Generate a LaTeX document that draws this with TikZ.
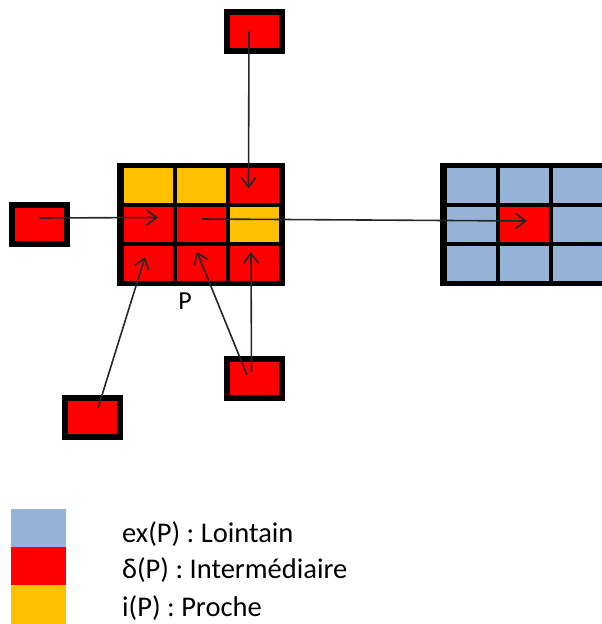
\documentclass[tikz,border=0pt]{standalone}
\usepackage{fontspec}
\setmainfont{Carlito}
\usetikzlibrary{arrows.meta}
\definecolor{lointain}{RGB}{149,179,215}
\definecolor{inter}{RGB}{255,0,0}
\definecolor{proche}{RGB}{255,192,0}

\begin{document}
\begin{tikzpicture}[x=1pt,y=-1pt,
    frame/.style={fill=black,minimum width=168pt,minimum height=123pt,inner sep=0},
    cell/.style={minimum width=49pt,minimum height=35pt,inner sep=0},
    blob/.style={fill=inter,draw=black,line width=6pt,minimum width=55pt,minimum height=39pt,inner sep=0},
    link/.style={draw=black!85,line width=1.6pt,-{Straight Barb[length=10pt,width=15pt]}},
    swatch/.style={minimum width=55pt,minimum height=38.5pt,inner sep=0},
    legend/.style={anchor=base west,inner sep=0,font=\fontsize{28.5}{30}\selectfont}]
  \useasboundingbox (0,0) rectangle (602,624);
  % grid of P
  \node[frame] (gridP) at (201,224.5) {};
  \foreach \r/\c/\col in {1/1/proche,1/2/proche,1/3/inter,
                          2/1/inter,2/2/inter,2/3/proche,
                          3/1/inter,3/2/inter,3/3/inter}
    \node[cell,fill=\col] (p\r\c) at ({95+53*\c},{146.5+39*\r}) {};
  \node[font=\fontsize{26}{28}\selectfont] (plabel) at (185,301) {P};
  % far grid
  \node[frame] (gridEx) at (524,224.5) {};
  \foreach \r/\c/\col in {1/1/lointain,1/2/lointain,1/3/lointain,
                          2/1/lointain,2/2/inter,2/3/lointain,
                          3/1/lointain,3/2/lointain,3/3/lointain}
    \node[cell,fill=\col] (e\r\c) at ({418+53*\c},{146.5+39*\r}) {};
  % small boxes
  \node[blob] (tb) at (254.5,31.5) {};
  \node[blob] (lb) at (39.5,224.5) {};
  \node[blob] (bl) at (92.5,417) {};
  \node[blob] (bm) at (254.5,378) {};
  % links
  \draw[link] ([shift={(-5.5,0)}]tb.center) -- ([shift={(-5.5,3)}]p13.center);
  \draw[link] ([shift={(0,-6.5)}]lb.center) -- ([shift={(10,-7)}]p21.center);
  \draw[link] ([shift={(1,-5.5)}]p22.center) -- ([shift={(3,-3.5)}]e22.center);
  \draw[link] ([shift={(5.5,-9)}]bl.center) -- ([shift={(-3,-6.5)}]p31.center);
  \draw[link] ([shift={(-7.5,-3)}]bm.center) -- ([shift={(-4,-11.5)}]p32.center);
  \draw[link] ([shift={(-3,-6)}]bm.center) -- ([shift={(-3,-11.5)}]p33.center);
  % legend
  \node[swatch,fill=lointain] (swEx) at (38.5,528.5) {};
  \node[swatch,fill=inter] (swDelta) at (38.5,566.5) {};
  \node[swatch,fill=proche] (swI) at (38.5,604.5) {};
  \node[legend] (txtEx) at (122,542) {ex(P) : Lointain};
  \node[legend] (txtDelta) at (122,578) {δ(P) : Intermédiaire};
  \node[legend] (txtI) at (122,616) {i(P) : Proche};
\end{tikzpicture}
\end{document}
